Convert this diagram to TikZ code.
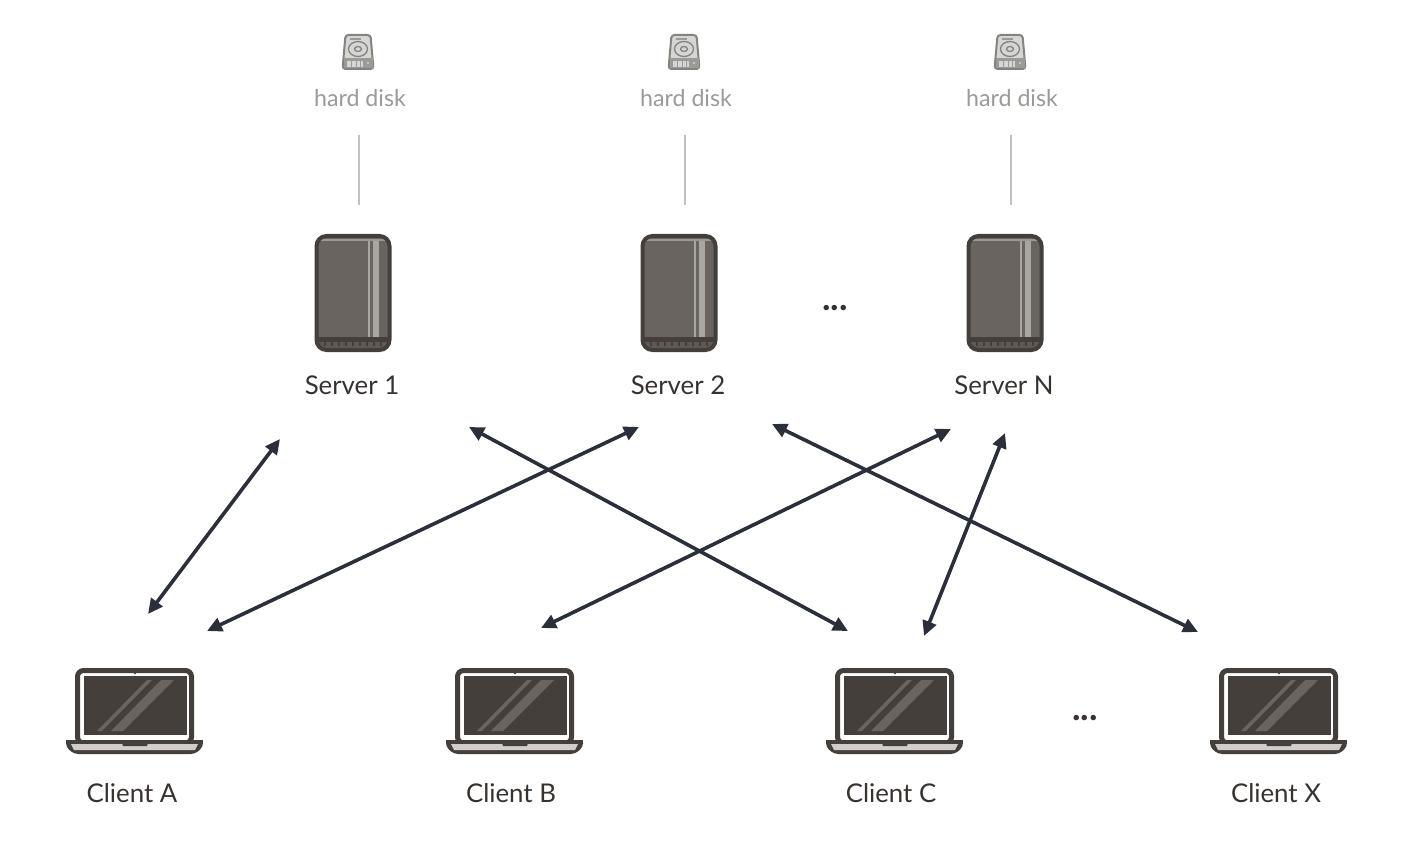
\documentclass[tikz,border=0pt]{standalone}
\usepackage{fontspec}
\setmainfont{Lato}
\usetikzlibrary{arrows.meta}
\definecolor{arrowcol}{HTML}{2A2F3A}
\definecolor{iconcol}{HTML}{453F3B}
\definecolor{bodycol}{HTML}{69645F}
\definecolor{stripecol}{HTML}{A9A6A2}
\definecolor{diskcol}{HTML}{9A9B97}
\definecolor{diskfill}{HTML}{D6D7D4}
\tikzset{
    server/.pic={
        \begin{scope}
            \clip[rounded corners=10pt] (-36.5,-57) rectangle (36.5,57);
            \fill[bodycol] (-37,-58) rectangle (37,46);
            \fill[stripecol] (15,-53) rectangle (17,44);
            \fill[stripecol] (20,-53) rectangle (26,44);
            \fill[stripecol!80!bodycol] (-34,-54) rectangle (34,-52);
            \fill[iconcol] (-37,44) rectangle (37,58);
            \fill[bodycol!70!iconcol] (-34,49) rectangle (34,58);
            \foreach \tick in {-28,-21,...,28} {
                \fill[iconcol] (\tick-1,49) rectangle (\tick+1,53);
            }
        \end{scope}
        \draw[iconcol,line width=4pt,rounded corners=10pt] (-36.5,-57) rectangle (36.5,57);
    },
    laptop/.pic={
        \draw[iconcol,line width=5pt,fill=white,rounded corners=6pt] (-57.5,-40.5) rectangle (56.5,32);
        \fill[iconcol] (-51,-35) rectangle (52,24);
        \fill[iconcol] (0,-38) circle (1.3);
        \fill[bodycol] (-38,20) -- (-33,20) -- (17,-31) -- (12,-31) -- cycle;
        \fill[bodycol] (-24,20) -- (-12,20) -- (39,-31) -- (26,-31) -- cycle;
        \fill[iconcol,rounded corners=4pt] (-69,29) -- (68,29) -- (68,36) -- (60,43) -- (-61,43) -- (-69,36) -- cycle;
        \fill[iconcol] (-69,29) rectangle (68,33);
        \fill[stripecol!55!white] (-64,33) -- (63,33) -- (60,39) -- (-61,39) -- cycle;
        \fill[iconcol] (-14,29) -- (14,29) -- (12,35) -- (-12,35) -- cycle;
    },
    disk/.pic={
        \draw[diskcol!85!black,line width=2pt,fill=diskfill,rounded corners=3pt] (-12.5,-17) -- (12.5,-17) -- (15.5,17) -- (-15.5,17) -- cycle;
        \fill[diskcol] (-14.5,6) rectangle (14.5,16);
        \fill[diskfill] (-11,9) rectangle (5,15);
        \foreach \slot in {-7,-2,2} {
            \fill[diskcol] (\slot,9) rectangle (\slot+1,15);
        }
        \fill[diskfill] (10,11) circle (1.2);
        \draw[diskcol,line width=1.5pt] (-8,-13) -- (3,-13);
        \draw[diskcol!85!black,line width=1.3pt] (0,-3) ellipse (9.5 and 7.5);
        \draw[diskcol!85!black,line width=1.3pt] (0,-3) ellipse (3.5 and 2.5);
    }
}
\begin{document}
\begin{tikzpicture}[
    x=1pt,y=-1pt,
    line/.style={{Triangle[length=15pt,width=14pt]}-{Triangle[length=15pt,width=14pt]},line width=3.6pt,color=arrowcol},
    stem/.style={line width=1.3pt,color=diskcol!60!white},
    label/.style={font=\fontsize{25.8}{30}\selectfont,text=iconcol!80!black,inner sep=0pt},
    disklabel/.style={font=\fontsize{23.2}{28}\selectfont,text=diskcol,inner sep=0pt},
    gap/.style={font=\fontsize{36}{36}\bfseries\selectfont,text=iconcol!80!black,inner sep=0pt}
]
    \useasboundingbox (0,0) rectangle (1426,850);

    % Hard disks
    \pic (D1) at (358,52) {disk};
    \pic (D2) at (684,52) {disk};
    \pic (D3) at (1010,52) {disk};
    \node at (360,98) [disklabel] (HD1) {hard disk};
    \node at (686,98) [disklabel] (HD2) {hard disk};
    \node at (1012,98) [disklabel] (HD3) {hard disk};

    % Servers
    \pic (S1) at (353,293) {server};
    \pic (S2) at (679,293) {server};
    \pic (S3) at (1005,293) {server};
    \node at (352,385) [label] (LS1) {Server 1};
    \node at (678,385) [label] (LS2) {Server 2};
    \node at (1004,385) [label] (LS3) {Server N};
    \node at (835,308) [gap] (DS) {...};

    % Clients
    \pic (C1) at (135,711) {laptop};
    \pic (C2) at (515,711) {laptop};
    \pic (C3) at (895,711) {laptop};
    \pic (C4) at (1279,711) {laptop};
    \node at (132,793) [label] (LC1) {Client A};
    \node at (511,793) [label] (LC2) {Client B};
    \node at (891,793) [label] (LC3) {Client C};
    \node at (1276,793) [label] (LC4) {Client X};
    \node at (1085,718) [gap] (DC) {...};

    % Stem ends
    \coordinate (T1) at (359,135);
    \coordinate (T2) at (685,135);
    \coordinate (T3) at (1011,135);
    \coordinate (B1) at (359,205);
    \coordinate (B2) at (685,205);
    \coordinate (B3) at (1011,205);
    \draw[stem] (T1) -- (B1);
    \draw[stem] (T2) -- (B2);
    \draw[stem] (T3) -- (B3);

    % Arrow ends
    \coordinate (P1) at (280,439);
    \coordinate (P2) at (639,427);
    \coordinate (P3) at (469,427);
    \coordinate (P4) at (951,429);
    \coordinate (P5) at (1005,433);
    \coordinate (P6) at (772,424);
    \coordinate (Q1) at (148,614);
    \coordinate (Q2) at (207,631);
    \coordinate (Q3) at (848,631);
    \coordinate (Q4) at (541,628);
    \coordinate (Q5) at (924,636);
    \coordinate (Q6) at (1198,632);
    \draw[line] (P1) -- (Q1);
    \draw[line] (P2) -- (Q2);
    \draw[line] (P3) -- (Q3);
    \draw[line] (P4) -- (Q4);
    \draw[line] (P5) -- (Q5);
    \draw[line] (P6) -- (Q6);
\end{tikzpicture}
\end{document}
